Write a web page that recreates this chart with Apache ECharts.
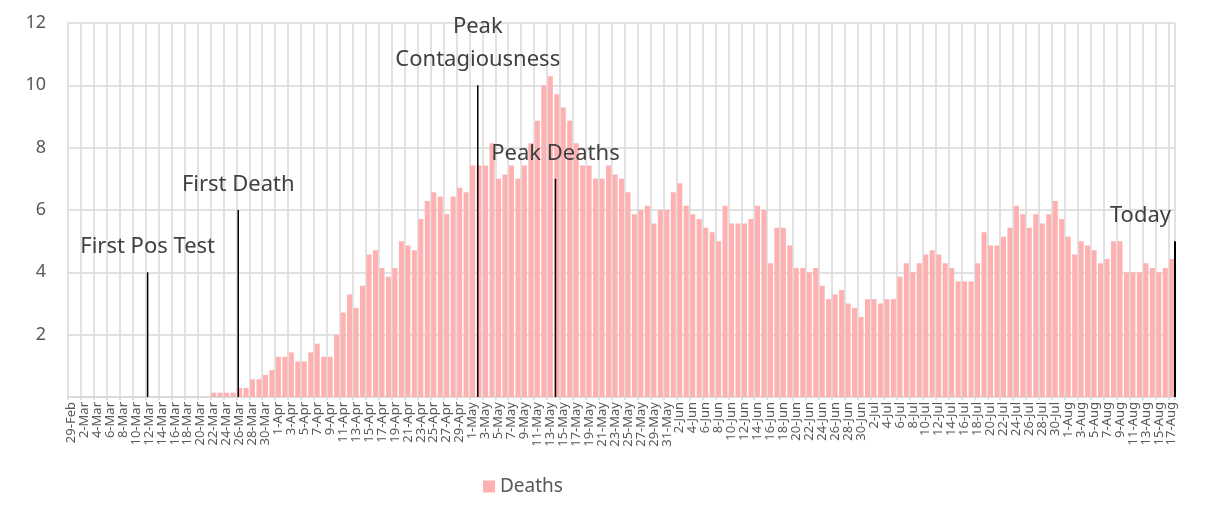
<!DOCTYPE html>
<html>
<head>
<meta charset="utf-8">
<title>Deaths</title>
<script src="https://cdn.jsdelivr.net/npm/echarts@6/dist/echarts.min.js"></script>
<style>
  html, body { margin: 0; padding: 0; background: #fff; }
  #chart { width: 1216px; height: 505px; }
</style>
</head>
<body>
<div id="chart"></div>
<script>
// one category per day, 29-Feb .. 17-Aug
const dates = [
  '29-Feb',
  '1-Mar', '2-Mar', '3-Mar', '4-Mar', '5-Mar', '6-Mar', '7-Mar', '8-Mar', '9-Mar', '10-Mar',
  '11-Mar', '12-Mar', '13-Mar', '14-Mar', '15-Mar', '16-Mar', '17-Mar', '18-Mar', '19-Mar', '20-Mar',
  '21-Mar', '22-Mar', '23-Mar', '24-Mar', '25-Mar', '26-Mar', '27-Mar', '28-Mar', '29-Mar', '30-Mar', '31-Mar',
  '1-Apr', '2-Apr', '3-Apr', '4-Apr', '5-Apr', '6-Apr', '7-Apr', '8-Apr', '9-Apr', '10-Apr',
  '11-Apr', '12-Apr', '13-Apr', '14-Apr', '15-Apr', '16-Apr', '17-Apr', '18-Apr', '19-Apr', '20-Apr',
  '21-Apr', '22-Apr', '23-Apr', '24-Apr', '25-Apr', '26-Apr', '27-Apr', '28-Apr', '29-Apr', '30-Apr',
  '1-May', '2-May', '3-May', '4-May', '5-May', '6-May', '7-May', '8-May', '9-May', '10-May',
  '11-May', '12-May', '13-May', '14-May', '15-May', '16-May', '17-May', '18-May', '19-May', '20-May',
  '21-May', '22-May', '23-May', '24-May', '25-May', '26-May', '27-May', '28-May', '29-May', '30-May', '31-May',
  '1-Jun', '2-Jun', '3-Jun', '4-Jun', '5-Jun', '6-Jun', '7-Jun', '8-Jun', '9-Jun', '10-Jun',
  '11-Jun', '12-Jun', '13-Jun', '14-Jun', '15-Jun', '16-Jun', '17-Jun', '18-Jun', '19-Jun', '20-Jun',
  '21-Jun', '22-Jun', '23-Jun', '24-Jun', '25-Jun', '26-Jun', '27-Jun', '28-Jun', '29-Jun', '30-Jun',
  '1-Jul', '2-Jul', '3-Jul', '4-Jul', '5-Jul', '6-Jul', '7-Jul', '8-Jul', '9-Jul', '10-Jul',
  '11-Jul', '12-Jul', '13-Jul', '14-Jul', '15-Jul', '16-Jul', '17-Jul', '18-Jul', '19-Jul', '20-Jul',
  '21-Jul', '22-Jul', '23-Jul', '24-Jul', '25-Jul', '26-Jul', '27-Jul', '28-Jul', '29-Jul', '30-Jul', '31-Jul',
  '1-Aug', '2-Aug', '3-Aug', '4-Aug', '5-Aug', '6-Aug', '7-Aug', '8-Aug', '9-Aug', '10-Aug',
  '11-Aug', '12-Aug', '13-Aug', '14-Aug', '15-Aug', '16-Aug', '17-Aug'
]

// daily deaths (7 day average)
const deaths = [
  0,
  0, 0, 0, 0, 0, 0, 0, 0, 0, 0,
  0, 0, 0, 0, 0, 0, 0, 0, 0, 0,
  0, 0.14, 0.14, 0.14, 0.14, 0.29, 0.29, 0.57, 0.57, 0.71, 0.86,
  1.29, 1.29, 1.43, 1.14, 1.14, 1.43, 1.71, 1.29, 1.29, 2.0,
  2.71, 3.29, 2.86, 3.57, 4.57, 4.71, 4.14, 3.86, 4.14, 5.0,
  4.86, 4.71, 5.71, 6.29, 6.57, 6.43, 5.86, 6.43, 6.71, 6.57,
  7.43, 7.43, 7.43, 8.14, 7.0, 7.14, 7.43, 7.0, 7.43, 8.14,
  8.86, 10.0, 10.29, 9.71, 9.29, 8.86, 8.14, 7.43, 7.43, 7.0,
  7.0, 7.43, 7.14, 7.0, 6.57, 5.86, 6.0, 6.14, 5.57, 6.0, 6.0,
  6.57, 6.86, 6.14, 5.86, 5.71, 5.43, 5.29, 5.0, 6.14, 5.57,
  5.57, 5.57, 5.71, 6.14, 6.0, 4.29, 5.43, 5.43, 4.86, 4.14,
  4.14, 4.0, 4.14, 3.57, 3.14, 3.29, 3.43, 3.0, 2.86, 2.57,
  3.14, 3.14, 3.0, 3.14, 3.14, 3.86, 4.29, 4.0, 4.29, 4.57,
  4.71, 4.57, 4.29, 4.14, 3.71, 3.71, 3.71, 4.29, 5.29, 4.86,
  4.86, 5.14, 5.43, 6.14, 5.86, 5.43, 5.86, 5.57, 5.86, 6.29, 5.71,
  5.14, 4.57, 5.0, 4.86, 4.71, 4.29, 4.43, 5.0, 5.0, 4.0,
  4.0, 4.0, 4.29, 4.14, 4.0, 4.14, 4.43
]

// event markers: day number counted from 29-Feb, height of the line, text
const eventDays = [12.3, 26.3, 63.3, 75.3, 171]
const eventHeights = [4, 6, 10, 7, 5]
const eventLabels = ['First Pos Test', 'First Death', 'Peak\nContagiousness', 'Peak Deaths', 'Today']

const FONT = 'Noto Sans'
const TEXT_COLOR = '#595959'
const GRID_COLOR = '#d9d9d9'

const chart = echarts.init(document.getElementById('chart'))

const option = {
  animation: false,
  textStyle: { fontFamily: FONT },
  grid: { left: 68, right: 41, top: 23, bottom: 108 },
  legend: {
    data: ['Deaths'],
    left: 478,
    top: 472,
    icon: 'rect',
    itemWidth: 12,
    itemHeight: 12,
    itemGap: 6,
    textStyle: { fontFamily: FONT, fontSize: 19, color: TEXT_COLOR }
  },
  xAxis: [
    {
      type: 'category',
      data: dates,
      boundaryGap: true,
      axisLine: { lineStyle: { color: GRID_COLOR, width: 1.5 } },
      axisTick: { show: true, interval: 1, length: 3, lineStyle: { color: GRID_COLOR, width: 1.5 } },
      axisLabel: { interval: 1, rotate: 90, margin: 5, fontSize: 13, color: TEXT_COLOR, fontFamily: FONT },
      splitLine: { show: true, interval: 1, lineStyle: { color: GRID_COLOR, width: 1.5 } }
    },
    {
      // hidden day-number axis for the event markers
      type: 'value',
      min: 0,
      max: dates.length,
      show: false
    }
  ],
  yAxis: {
    type: 'value',
    min: 0,
    max: 12,
    interval: 2,
    axisLine: { show: false },
    axisTick: { show: false },
    axisLabel: {
      fontSize: 18,
      color: TEXT_COLOR,
      margin: 22,
      formatter: v => (v === 0 ? '' : v)
    },
    splitLine: { lineStyle: { color: GRID_COLOR, width: 1.5 } }
  },
  series: [
    {
      name: 'Deaths',
      type: 'bar',
      data: deaths,
      barCategoryGap: '22%',
      itemStyle: { color: '#ffb0b0' }
    },
    {
      name: 'events',
      type: 'custom',
      xAxisIndex: 1,
      silent: true,
      z: 5,
      data: eventDays.map((d, i) => [d, eventHeights[i], eventLabels[i]]),
      renderItem: (params, api) => {
        const bottom = api.coord([api.value(0), 0])
        const top = api.coord([api.value(0), api.value(1)])
        const label = eventLabels[params.dataIndex]
        const plotRight = params.coordSys.x + params.coordSys.width
        const nearEdge = top[0] + 40 > plotRight
        return {
          type: 'group',
          children: [
            {
              type: 'line',
              shape: { x1: bottom[0], y1: bottom[1], x2: top[0], y2: top[1] },
              style: { stroke: '#000', lineWidth: nearEdge ? 2 : 1.5 }
            },
            {
              type: 'text',
              x: nearEdge ? top[0] - 4 : top[0],
              y: top[1] - 9,
              style: {
                text: label,
                fontFamily: FONT,
                fontSize: 22,
                lineHeight: 33,
                fill: '#404040',
                align: nearEdge ? 'right' : 'center',
                verticalAlign: 'bottom'
              }
            }
          ]
        }
      }
    }
  ]
}

chart.setOption(option)
window.addEventListener('resize', () => chart.resize())
</script>
</body>
</html>
